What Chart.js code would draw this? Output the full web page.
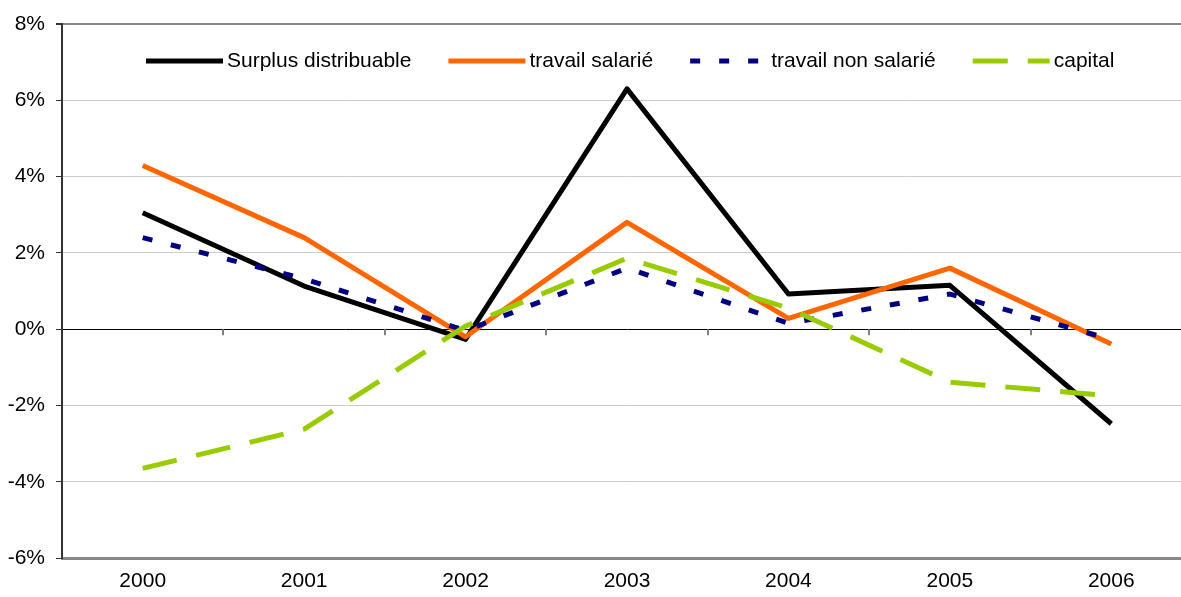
<!DOCTYPE html>
<html>
<head>
<meta charset="utf-8">
<script src="https://cdn.jsdelivr.net/npm/chart.js@4/dist/chart.umd.min.js"></script>
<style>
  body { margin: 0; background: #fff; overflow: hidden; }
  #wrap { width: 1196px; height: 597px; }
</style>
</head>
<body>
<div id="wrap"><canvas id="myChart"></canvas></div>
<script>
let years = ['2000', '2001', '2002', '2003', '2004', '2005', '2006'];
let surplus = [3.05, 1.13, -0.27, 6.3, 0.92, 1.15, -2.48];
let salarie = [4.29, 2.4, -0.2, 2.8, 0.28, 1.6, -0.39];
let nonSalarie = [2.4, 1.32, -0.04, 1.6, 0.15, 0.92, -0.27];
let capital = [-3.65, -2.62, 0.08, 1.86, 0.55, -1.39, -1.75];
let yTicks = [-6, -4, -2, 0, 2, 4, 6, 8];

const FONT = "'Liberation Sans', Arial, sans-serif";

// legend drawn inside the plot, line sample followed by the label
const legendPlugin = {
    id: 'inlineLegend',
    afterDraw(chart) {
        const c = chart.ctx;
        let x = 146;
        const y = 61;
        c.save();
        c.font = '21px ' + FONT;
        c.textBaseline = 'middle';
        c.fillStyle = '#000';
        chart.data.datasets.forEach(ds => {
            c.beginPath();
            c.setLineDash(ds.borderDash || []);
            c.lineWidth = ds.borderWidth;
            c.strokeStyle = ds.borderColor;
            c.moveTo(x, y);
            c.lineTo(x + 77, y);
            c.stroke();
            c.setLineDash([]);
            c.fillText(ds.label, x + 81, y);
            x += 81 + c.measureText(ds.label).width + 37;
        });
        c.restore();
    }
};

// small ticks under the zero line between categories
const zeroTicks = {
    id: 'zeroTicks',
    beforeDatasetsDraw(chart) {
        const c = chart.ctx;
        const xs = chart.scales.x;
        const y0 = chart.scales.y.getPixelForValue(0);
        c.save();
        c.strokeStyle = '#808080';
        c.lineWidth = 2;
        for (let i = 0; i < years.length - 1; i++) {
            const px = Math.round((xs.getPixelForValue(i) + xs.getPixelForValue(i + 1)) / 2);
            c.beginPath();
            c.moveTo(px, y0);
            c.lineTo(px, y0 + 6);
            c.stroke();
        }
        c.restore();
    }
};

const ctx = document.getElementById('myChart');

var chart = new Chart(ctx, {
    type: 'line',
    data: {
        labels: years,
        datasets: [{
            label: 'Surplus distribuable',
            data: surplus,
            borderColor: '#000000',
            borderWidth: 5,
            order: 4
        }, {
            label: 'travail salarié',
            data: salarie,
            borderColor: '#FF6600',
            borderWidth: 5,
            order: 3
        }, {
            label: 'travail non salarié',
            data: nonSalarie,
            borderColor: '#000080',
            borderWidth: 5,
            borderDash: [10, 19],
            order: 2
        }, {
            label: 'capital',
            data: capital,
            borderColor: '#99CC00',
            borderWidth: 5,
            borderDash: [35, 20],
            order: 1
        }]
    },
    options: {
        responsive: true,
        maintainAspectRatio: false,
        animation: false,
        elements: {
            point: { radius: 0 },
            line: { tension: 0, borderJoinStyle: 'round', borderCapStyle: 'butt', fill: false }
        },
        layout: { padding: { top: 24, right: 4, left: 0, bottom: 0 } },
        plugins: {
            legend: { display: false },
            tooltip: { enabled: false }
        },
        scales: {
            x: {
                offset: true,
                grid: { display: false, drawTicks: false },
                border: { display: true, color: '#888888', width: 3 },
                ticks: { color: '#000', font: { family: FONT, size: 21 }, padding: 11, maxRotation: 0 },
                afterFit: s => { s.height = 39; }
            },
            y: {
                min: -6,
                max: 8,
                afterBuildTicks: s => { s.ticks = yTicks.map(v => ({ value: v })); },
                grid: {
                    color: c => c.tick.value === 0 ? '#000000' : (c.tick.value === 8 ? '#888888' : '#cccccc'),
                    lineWidth: c => c.tick.value === 8 ? 2 : 1,
                    tickColor: '#333333',
                    tickLength: 6
                },
                border: { display: true, color: '#333333', width: 2 },
                ticks: {
                    color: '#000',
                    font: { family: FONT, size: 21 },
                    padding: 11,
                    callback: v => v + '%'
                },
                afterFit: s => { s.width = 62; }
            }
        }
    },
    plugins: [zeroTicks, legendPlugin]
});
</script>
</body>
</html>
